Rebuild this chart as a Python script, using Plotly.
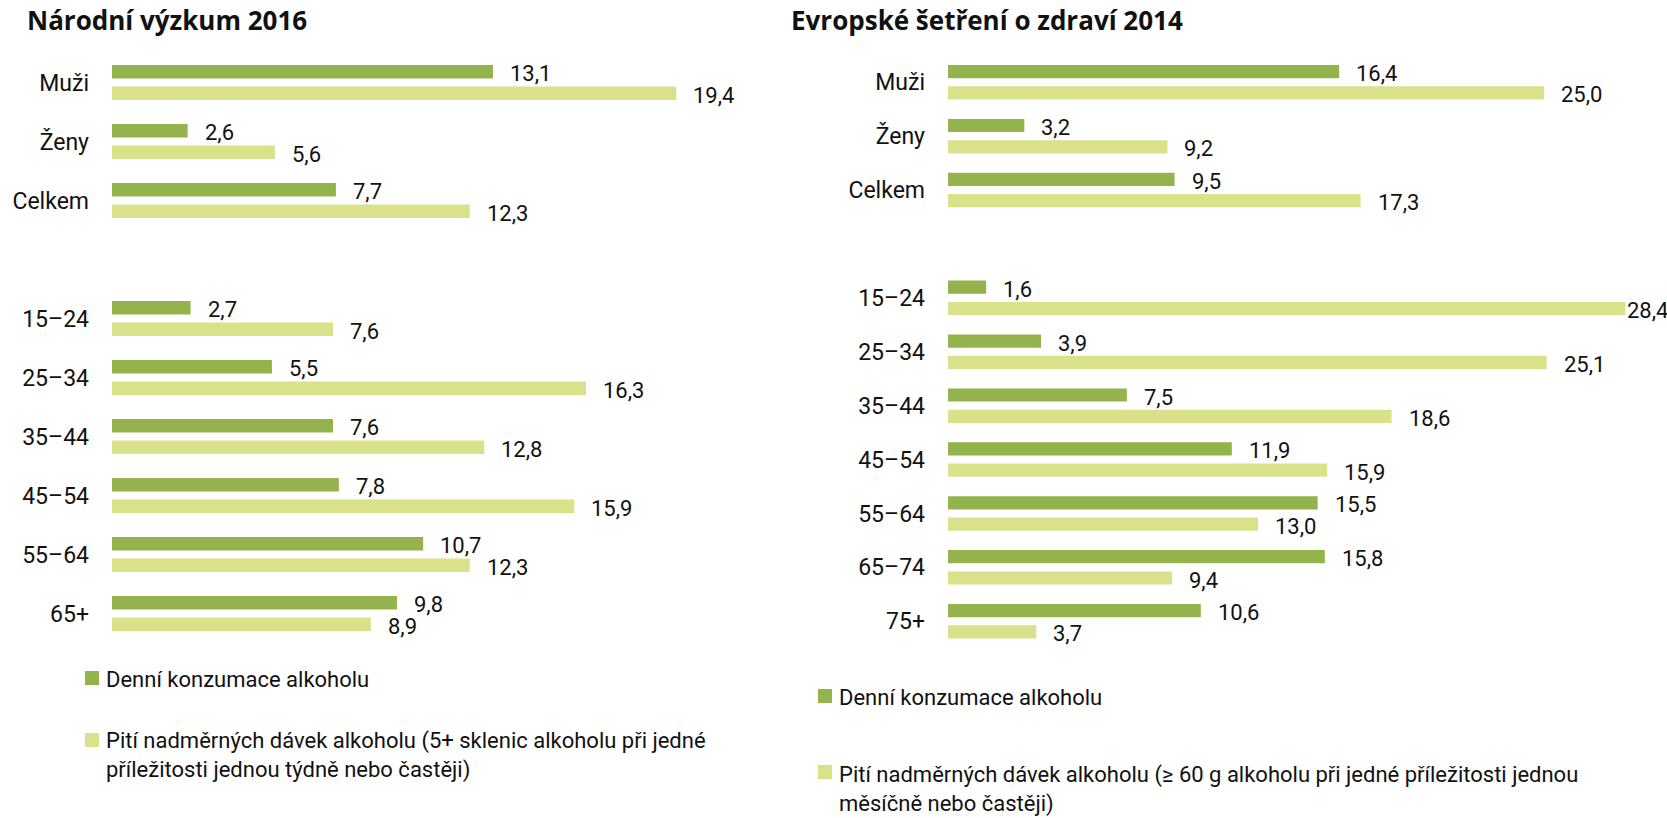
import plotly.graph_objects as go

W, H = 1667, 818

# ---------------- data ----------------
left_title = "Národní výzkum 2016"
right_title = "Evropské šetření o zdraví 2014"

left_groups = ["Muži", "Ženy", "Celkem"]
left_ages = ["15–24", "25–34", "35–44", "45–54", "55–64", "65+"]
left_daily = [13.1, 2.6, 7.7, 2.7, 5.5, 7.6, 7.8, 10.7, 9.8]
left_binge = [19.4, 5.6, 12.3, 7.6, 16.3, 12.8, 15.9, 12.3, 8.9]

right_groups = ["Muži", "Ženy", "Celkem"]
right_ages = ["15–24", "25–34", "35–44", "45–54", "55–64", "65–74", "75+"]
right_daily = [16.4, 3.2, 9.5, 1.6, 3.9, 7.5, 11.9, 15.5, 15.8, 10.6]
right_binge = [25.0, 9.2, 17.3, 28.4, 25.1, 18.6, 15.9, 13.0, 9.4, 3.7]

daily_name = "Denní konzumace alkoholu"
left_binge_name = ("Pití nadměrných dávek alkoholu (5+ sklenic alkoholu při jedné<br>"
                   "příležitosti jednou týdně nebo častěji)")
right_binge_name = ("Pití nadměrných dávek alkoholu (≥ 60 g alkoholu při jedné příležitosti jednou<br>"
                    "měsíčně nebo častěji)")

# ---------------- styling ----------------
DARK = "#95B34D"
LIGHT = "#D9E18B"
FONT = "Roboto"
TITLE_FONT = "Open Sans"
TXT = "#111111"
FS = 22


def positions(groups, ages):
    # one empty slot between the two blocks of categories
    return list(range(len(groups))) + [len(groups) + 1 + i for i in range(len(ages))]


left_pos = positions(left_groups, left_ages)
right_pos = positions(right_groups, right_ages)
left_labels = left_groups + left_ages
right_labels = right_groups + right_ages

# pixel geometry
L_X0, L_RANGE, L_SCALE = 112, 20, 29.08
R_X0, R_RANGE, R_SCALE = 948, 30, 23.85
L_Y0, L_STEP = 82.5, 59.0
R_Y0, R_STEP = 82.25, 53.9

L_BW, L_OFF_D, L_OFF_B = 0.229, -0.297, 0.068
R_BW, R_OFF_D, R_OFF_B = 0.245, -0.32, 0.075

fig = go.Figure()


def add_bars(xs, pos, name, color, bw, off, xa, ya):
    fig.add_trace(go.Bar(
        x=xs, y=pos, orientation="h", name=name.replace("<br>", " "),
        marker=dict(color=color, line=dict(width=0)),
        width=bw, offset=off, xaxis=xa, yaxis=ya, showlegend=False,
        hoverinfo="x",
    ))


add_bars(left_daily, left_pos, daily_name, DARK, L_BW, L_OFF_D, "x", "y")
add_bars(left_binge, left_pos, left_binge_name, LIGHT, L_BW, L_OFF_B, "x", "y")
add_bars(right_daily, right_pos, daily_name, DARK, R_BW, R_OFF_D, "x2", "y2")
add_bars(right_binge, right_pos, right_binge_name, LIGHT, R_BW, R_OFF_B, "x2", "y2")

annotations = []


def add_labels(vals, pos, off, bw, xref, yref, x0, scale):
    for v, p in zip(vals, pos):
        end_px = x0 + v * scale
        shift = 15 if end_px + 15 + 44 < W else 0
        annotations.append(dict(
            x=v, y=p + off + bw / 2, xref=xref, yref=yref,
            text=f"{v:.1f}".replace(".", ","), showarrow=False,
            xanchor="left", yanchor="middle", xshift=shift, yshift=-2,
            font=dict(family=FONT, size=FS, color=TXT),
        ))


add_labels(left_daily, left_pos, L_OFF_D, L_BW, "x", "y", L_X0, L_SCALE)
add_labels(left_binge, left_pos, L_OFF_B, L_BW, "x", "y", L_X0, L_SCALE)
add_labels(right_daily, right_pos, R_OFF_D, R_BW, "x2", "y2", R_X0, R_SCALE)
add_labels(right_binge, right_pos, R_OFF_B, R_BW, "x2", "y2", R_X0, R_SCALE)


def py(p):
    return 1 - p / H


def px(p):
    return p / W


# titles
annotations.append(dict(x=px(25), y=py(20), xref="paper", yref="paper", text=f"<b>{left_title}</b>",
                        showarrow=False, xanchor="left", yanchor="middle",
                        font=dict(family=TITLE_FONT, size=26, color=TXT)))
annotations.append(dict(x=px(789), y=py(20), xref="paper", yref="paper", text=f"<b>{right_title}</b>",
                        showarrow=False, xanchor="left", yanchor="middle",
                        font=dict(family=TITLE_FONT, size=26, color=TXT)))

# manual legends
shapes = []


def legend_item(sq_x, sq_y, text, color, text_y):
    shapes.append(dict(type="rect", xref="paper", yref="paper",
                       x0=px(sq_x), x1=px(sq_x + 14), y0=py(sq_y), y1=py(sq_y + 14),
                       fillcolor=color, line=dict(width=0)))
    annotations.append(dict(x=px(sq_x + 19), y=py(text_y), xref="paper", yref="paper",
                            text=text, showarrow=False, xanchor="left", yanchor="middle",
                            align="left", font=dict(family=FONT, size=FS, color=TXT)))


legend_item(85, 671, daily_name, DARK, 679)
legend_item(85, 733, left_binge_name, LIGHT, 755)
legend_item(818, 689, daily_name, DARK, 697)
legend_item(818, 765, right_binge_name, LIGHT, 789)


def ydomain(y0, step, n):
    top = y0 - step / 2
    bottom = y0 + (n - 0.5) * step
    return [1 - bottom / H, 1 - top / H]


n_left = left_pos[-1] + 1
n_right = right_pos[-1] + 1

axis_common = dict(showgrid=False, zeroline=False, showline=False, ticks="")

fig.update_layout(
    width=W, height=H, margin=dict(l=0, r=0, t=0, b=0),
    paper_bgcolor="white", plot_bgcolor="white",
    barmode="overlay", showlegend=False, separators=", ",
    font=dict(family=FONT, size=FS, color=TXT),
    xaxis=dict(domain=[px(L_X0), px(L_X0 + L_RANGE * L_SCALE)], range=[0, L_RANGE],
               visible=False, **axis_common),
    yaxis=dict(domain=ydomain(L_Y0, L_STEP, n_left), range=[n_left - 0.5, -0.5],
               tickmode="array", tickvals=left_pos, ticktext=left_labels,
               ticklabelstandoff=22, tickfont=dict(family=FONT, size=23, color=TXT),
               anchor="x", **axis_common),
    xaxis2=dict(domain=[px(R_X0), px(R_X0 + R_RANGE * R_SCALE)], range=[0, R_RANGE],
                visible=False, anchor="y2", **axis_common),
    yaxis2=dict(domain=ydomain(R_Y0, R_STEP, n_right), range=[n_right - 0.5, -0.5],
                tickmode="array", tickvals=right_pos, ticktext=right_labels,
                ticklabelstandoff=22, tickfont=dict(family=FONT, size=23, color=TXT),
                anchor="x2", **axis_common),
    annotations=annotations,
    shapes=shapes,
)

fig.write_html(
    "out.html",
    config={"displayModeBar": False},
    post_script="document.body.style.margin='0';document.body.style.overflow='hidden';",
)
